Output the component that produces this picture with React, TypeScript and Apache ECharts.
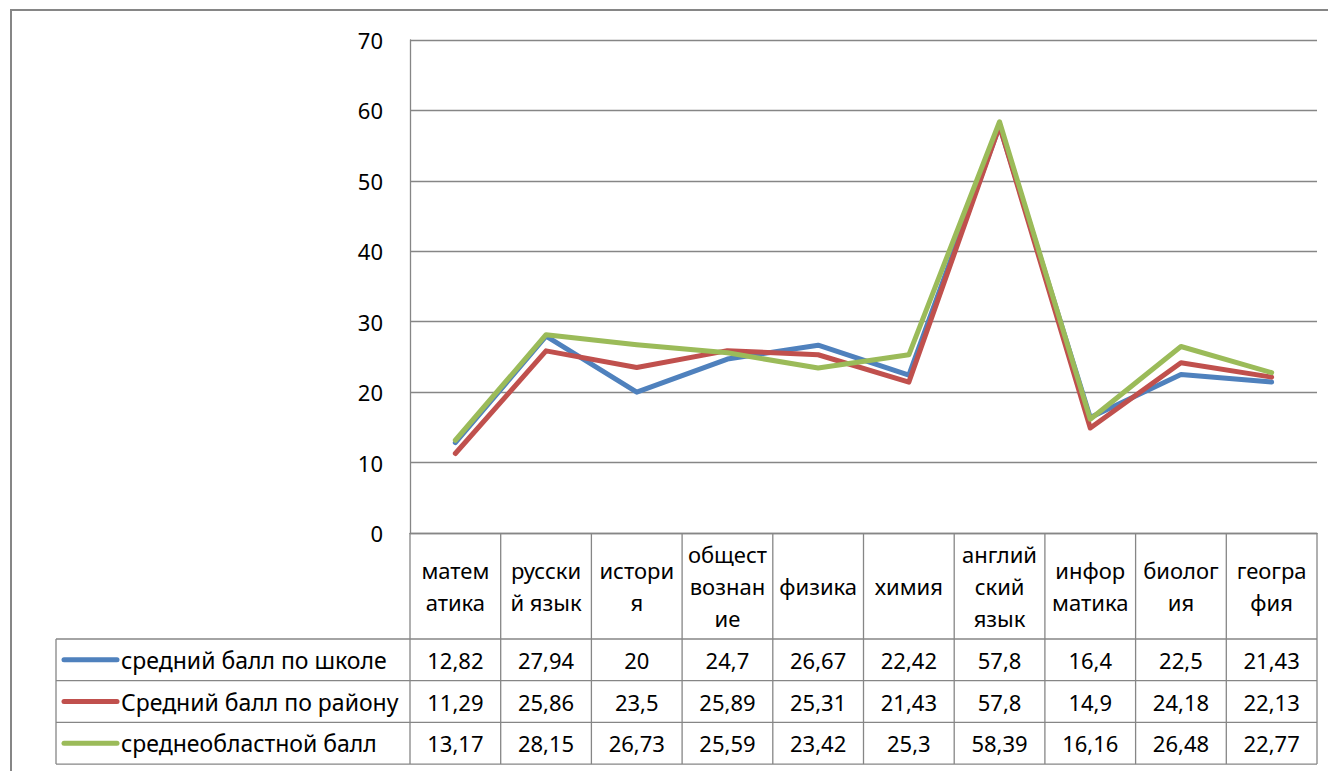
import React, { useEffect, useRef } from 'react';
import * as echarts from 'echarts';

// ---------- data ----------
const categories = [
  'матем\nатика',
  'русски\nй язык',
  'истори\nя',
  'общест\nвознан\nие',
  'физика',
  'химия',
  'англий\nский\nязык',
  'инфор\nматика',
  'биолог\nия',
  'геогра\nфия',
];
const seriesNames = ['средний балл по школе', 'Средний балл по району', 'среднеобластной балл'];
const schoolAvg = [12.82, 27.94, 20, 24.7, 26.67, 22.42, 57.8, 16.4, 22.5, 21.43];
const districtAvg = [11.29, 25.86, 23.5, 25.89, 25.31, 21.43, 57.8, 14.9, 24.18, 22.13];
const regionAvg = [13.17, 28.15, 26.73, 25.59, 23.42, 25.3, 58.39, 16.16, 26.48, 22.77];
const yMin = 0;
const yMax = 70;
const yStep = 10;

// ---------- layout / style ----------
const W = 1328;
const H = 771;
const GRID_LEFT = 410;
const GRID_RIGHT = 1317;
const GRID_TOP = 40;
const GRID_BOTTOM = 533;
const HEADER_BOTTOM = 639;
const ROW_H = 41.7;
const LEGEND_LEFT = 56;
const GRAY = '#868686';
const FONT = 'Noto Sans';
const FS = 22;
const LEGEND_FS = 23;
const colors = ['#4F81BD', '#C0504D', '#9BBB59'];

const fmt = (v: number) => String(v).replace('.', ',');

export default function App() {
  const ref = useRef<HTMLDivElement>(null);

  useEffect(() => {
    document.body.style.margin = '0';
    if (!ref.current) return;
    const chart = echarts.init(ref.current, undefined, { renderer: 'svg' });
    const allSeries = [schoolAvg, districtAvg, regionAvg];

    chart.setOption({
      animation: false,
      backgroundColor: '#ffffff',
      grid: {
        left: GRID_LEFT,
        right: W - GRID_RIGHT,
        top: GRID_TOP,
        bottom: H - GRID_BOTTOM,
        containLabel: false,
      },
      xAxis: {
        type: 'category',
        data: categories,
        boundaryGap: true,
        axisLine: { show: true, lineStyle: { color: GRAY, width: 1.3 } },
        axisTick: { show: false },
        axisLabel: {
          interval: 0,
          margin: (HEADER_BOTTOM - GRID_BOTTOM) / 2,
          verticalAlign: 'middle',
          align: 'center',
          color: '#000',
          fontFamily: FONT,
          fontSize: FS,
          lineHeight: 32,
        },
        splitLine: { show: false },
      },
      yAxis: {
        type: 'value',
        min: yMin,
        max: yMax,
        interval: yStep,
        axisLine: { show: true, lineStyle: { color: GRAY, width: 1.3 } },
        axisTick: { show: false },
        axisLabel: { color: '#000', fontFamily: FONT, fontSize: FS, margin: 27 },
        splitLine: { show: true, lineStyle: { color: GRAY, width: 1.3 } },
      },
      series: allSeries.map((d, i) => ({
        name: seriesNames[i],
        type: 'line',
        data: d,
        symbol: 'none',
        lineStyle: { color: colors[i], width: 5, cap: 'round', join: 'round' },
        itemStyle: { color: colors[i] },
        z: 2 + i,
      })),
    });

    // table built from the axis scale
    const centers = categories.map((_, i) => chart.convertToPixel({ xAxisIndex: 0 }, i) as number);
    const band = categories.length > 1 ? centers[1] - centers[0] : GRID_RIGHT - GRID_LEFT;
    const tableBottom = HEADER_BOTTOM + ROW_H * allSeries.length;
    const lineStyle = { stroke: GRAY, lineWidth: 1.3 };
    const els: any[] = [];

    // outer chart border
    els.push({
      type: 'rect',
      shape: { x: 11, y: 10, width: W + 20, height: H + 20 },
      style: { fill: 'none', stroke: GRAY, lineWidth: 2 },
      silent: true,
    });

    // column dividers
    for (let i = 0; i <= categories.length; i++) {
      const x = centers[0] - band / 2 + i * band;
      els.push({
        type: 'line',
        shape: { x1: x, y1: GRID_BOTTOM, x2: x, y2: tableBottom },
        style: lineStyle,
        silent: true,
      });
    }
    // legend column left edge
    els.push({
      type: 'line',
      shape: { x1: LEGEND_LEFT, y1: HEADER_BOTTOM, x2: LEGEND_LEFT, y2: tableBottom },
      style: lineStyle,
      silent: true,
    });
    // horizontal row lines
    for (let r = 0; r <= allSeries.length; r++) {
      const y = HEADER_BOTTOM + r * ROW_H;
      els.push({
        type: 'line',
        shape: { x1: LEGEND_LEFT, y1: y, x2: centers[0] - band / 2 + categories.length * band, y2: y },
        style: lineStyle,
        silent: true,
      });
    }
    // rows: legend key + name + values
    allSeries.forEach((d, r) => {
      const cy = HEADER_BOTTOM + ROW_H * (r + 0.5);
      els.push({
        type: 'line',
        shape: { x1: 64, y1: cy, x2: 117, y2: cy },
        style: { stroke: colors[r], lineWidth: 5, lineCap: 'round' },
        silent: true,
      });
      els.push({
        type: 'text',
        x: 121,
        y: cy,
        style: {
          text: seriesNames[r],
          fill: '#000',
          font: `${LEGEND_FS}px "${FONT}"`,
          textAlign: 'left',
          textVerticalAlign: 'middle',
        },
        silent: true,
      });
      d.forEach((v, i) => {
        els.push({
          type: 'text',
          x: centers[i],
          y: cy,
          style: {
            text: fmt(v),
            fill: '#000',
            font: `${FS}px "${FONT}"`,
            textAlign: 'center',
            textVerticalAlign: 'middle',
          },
          silent: true,
        });
      });
    });

    chart.setOption({ graphic: { elements: els } });

    return () => chart.dispose();
  }, []);

  return <div ref={ref} style={{ width: W, height: H }} />;
}
